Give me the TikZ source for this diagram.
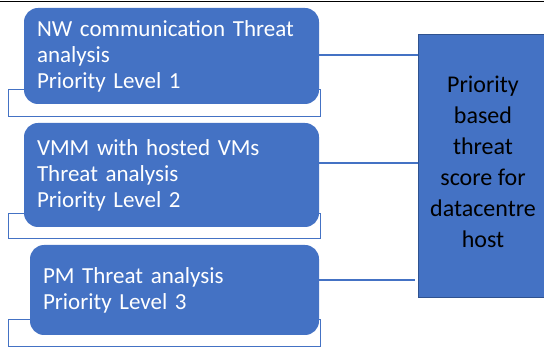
\documentclass[tikz,border=0pt]{standalone}
\usepackage{fontspec}
\setmainfont{Carlito}
\definecolor{boxblue}{HTML}{4472C4}
\definecolor{edgeblue}{HTML}{2F528F}
\tikzset{
  levelbox/.style={fill=boxblue, rounded corners=14pt, text=white, align=left,
    inner xsep=13pt, font=\fontsize{23}{26}\selectfont},
  scorebox/.style={fill=boxblue, draw=edgeblue, line width=1pt, align=center,
    font=\fontsize{24}{31}\selectfont},
  frame/.style={draw=boxblue, line width=0.8pt},
  conn/.style={draw=boxblue, line width=2pt}
}
\begin{document}
\begin{tikzpicture}[x=1pt,y=-1pt]
\useasboundingbox (0,0) rectangle (544,347);
\draw[line width=0.8pt] (0,1.5) -- (544,1.5);
% frames behind the level boxes
\draw[frame] (8,89) rectangle (320,116);
\draw[frame] (8,213) rectangle (320,238);
\draw[frame] (8,319) rectangle (320,346);
% level boxes
\node[levelbox, text width=269pt, minimum height=96pt] (b1) at (171.5,56)
  {NW communication Threat\\analysis\\Priority Level 1};
\node[levelbox, text width=269pt, minimum height=104pt] (b2) at (171.5,175)
  {VMM with hosted VMs\\Threat analysis\\Priority Level 2};
\node[levelbox, text width=263pt, minimum height=90pt] (b3) at (174.5,290)
  {PM Threat analysis\\Priority Level 3};
% score box
\node[scorebox, minimum width=130pt, minimum height=263pt] (score) at (483,166.5) {};
\node[font=\fontsize{24}{31}\selectfont, align=center] (scoretext) at (483,162)
  {Priority\\based\\threat\\score for\\datacentre\\host};
\coordinate (c3) at (415,280);
% connectors
\draw[conn] ([yshift=1pt]b1.east) -- ([yshift=1pt]b1.east -| score.west);
\draw[conn] ([yshift=12pt]b2.east) -- ([yshift=12pt]b2.east -| score.west);
\draw[conn] (b3.east |- c3) -- (c3);
\end{tikzpicture}
\end{document}
